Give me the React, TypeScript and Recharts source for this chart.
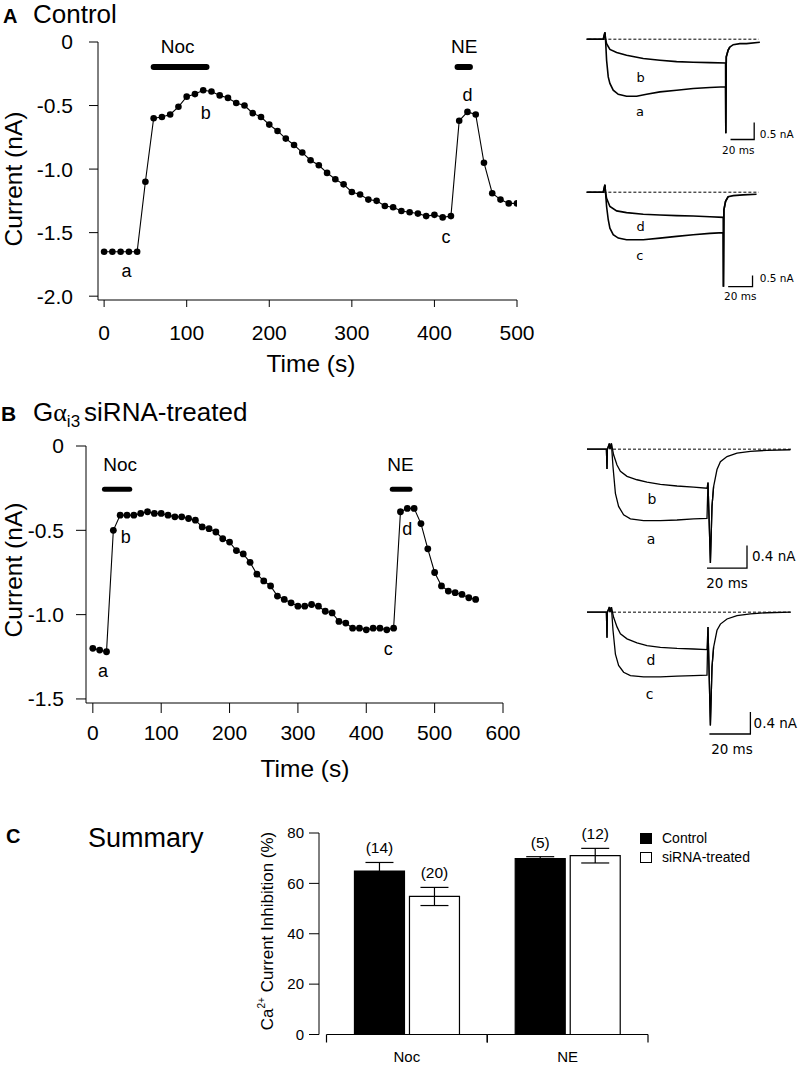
import React from 'react';
import {
  LineChart, Line, XAxis, YAxis, ReferenceDot, ReferenceLine,
  BarChart, Bar, ErrorBar, LabelList, Legend,
} from 'recharts';

const SANS = "'Liberation Sans', Arial, Helvetica, sans-serif";
const VERD = "'DejaVu Sans', Verdana, sans-serif";

// ---------------- Panel A : time course (Control) ----------------
const aTimes = [0, 10, 20, 30, 40, 50, 60, 70, 80, 90, 100, 110, 120, 130, 140, 150, 160, 170, 180, 190,
  200, 210, 220, 230, 240, 250, 260, 270, 280, 290, 300, 310, 320, 330, 340, 350, 360, 370, 380, 390,
  400, 410, 420, 430, 440, 450, 460, 470, 480, 490, 500];
const aCurrents = [-1.65, -1.65, -1.65, -1.65, -1.65, -1.10, -0.60, -0.59, -0.57, -0.51,
  -0.43, -0.41, -0.38, -0.39, -0.42, -0.44, -0.48, -0.50, -0.56, -0.59,
  -0.65, -0.70, -0.76, -0.81, -0.87, -0.93, -0.97, -1.03, -1.08, -1.12,
  -1.18, -1.20, -1.24, -1.25, -1.29, -1.30, -1.33, -1.34, -1.35, -1.37,
  -1.36, -1.38, -1.37, -0.62, -0.55, -0.57, -0.95, -1.19, -1.24, -1.27, -1.27];
const aXTicks = [0, 100, 200, 300, 400, 500];
const aYTicks = [0, -0.5, -1, -1.5, -2];
const aDrugNames = ['Noc', 'NE'];
const aDrugStart = [60, 428];
const aDrugEnd = [124, 443];
const aDrugLevel = -0.197;
const aDrugLabelT = [89, 436];
const aDrugLabelV = -0.03;
const aPointNames = ['a', 'b', 'c', 'd'];
const aPointT = [27, 123, 414, 440];
const aPointV = [-1.8, -0.556, -1.53, -0.415];

// ---------------- Panel B : time course (Gai3 siRNA) ----------------
const bTimes = [0, 10, 20, 30, 40, 50, 60, 70, 80, 90, 100, 110, 120, 130, 140, 150, 160, 170, 180, 190,
  200, 210, 220, 230, 240, 250, 260, 270, 280, 290, 300, 310, 320, 330, 340, 350, 360, 370, 380, 390,
  400, 410, 420, 430, 440, 450, 460, 470, 480, 490, 500, 510, 520, 530, 540, 550, 560];
const bCurrents = [-1.20, -1.21, -1.22, -0.50, -0.41, -0.41, -0.41, -0.40, -0.39, -0.40,
  -0.40, -0.41, -0.42, -0.42, -0.43, -0.44, -0.48, -0.49, -0.51, -0.55,
  -0.57, -0.62, -0.64, -0.69, -0.76, -0.80, -0.83, -0.89, -0.91, -0.93,
  -0.95, -0.95, -0.94, -0.95, -0.98, -0.99, -1.04, -1.05, -1.08, -1.08,
  -1.09, -1.08, -1.08, -1.09, -1.08, -0.39, -0.37, -0.37, -0.46, -0.61,
  -0.75, -0.83, -0.86, -0.87, -0.88, -0.90, -0.91];
const bXTicks = [0, 100, 200, 300, 400, 500, 600];
const bYTicks = [0, -0.5, -1, -1.5];
const bDrugNames = ['Noc', 'NE'];
const bDrugStart = [17, 438];
const bDrugEnd = [54, 464];
const bDrugLevel = -0.256;
const bDrugLabelT = [40, 450];
const bDrugLabelV = -0.107;
const bPointNames = ['a', 'b', 'c', 'd'];
const bPointT = [15, 48, 432, 460];
const bPointV = [-1.33, -0.535, -1.2, -0.49];

// ---------------- Current traces (t in ms, I in nA) ----------------
const trA_b = [[-15.5, 0], [-1.4, 0], [0, 0.2], [0.5, 0], [1.4, -0.13], [4.2, -0.3], [9.9, -0.39], [18.3, -0.47],
  [32.4, -0.57], [46.5, -0.62], [60.6, -0.66], [74.6, -0.68], [88.7, -0.69], [102, -0.7], [102.2, -2.77],
  [102.6, -0.52], [104.2, -0.32], [105.6, -0.23], [108.5, -0.16], [114.1, -0.13], [119.7, -0.13], [131, -0.09]];
const trA_a = [[-15.5, 0], [-1.4, 0], [0, 0.2], [0.5, 0], [1.4, -0.62], [2.8, -1.11], [4.2, -1.3], [7, -1.5],
  [11.3, -1.62], [18.3, -1.68], [26.8, -1.68], [35.2, -1.62], [46.5, -1.55], [60.6, -1.5], [74.6, -1.45],
  [88.7, -1.42], [102, -1.4], [102.2, -2.77], [102.6, -0.52], [104.2, -0.32], [105.6, -0.23]];
const trA_d = [[-15.5, 0], [-1.4, 0], [0, 0.22], [0.5, 0], [1.4, -0.18], [4.2, -0.42], [9.9, -0.55], [18.3, -0.6],
  [32.4, -0.65], [46.5, -0.67], [60.6, -0.69], [74.6, -0.7], [88.7, -0.72], [100, -0.74], [100.2, -2.78],
  [100.6, -0.52], [102, -0.27], [104.2, -0.13], [108.5, -0.1], [116.9, -0.08], [128.2, -0.06]];
const trA_c = [[-15.5, 0], [-1.4, 0], [0, 0.22], [0.5, 0], [1.4, -0.42], [2.8, -0.81], [4.2, -1.06], [7, -1.25],
  [11.3, -1.35], [18.3, -1.4], [32.4, -1.4], [46.5, -1.35], [60.6, -1.3], [74.6, -1.25], [88.7, -1.21],
  [100, -1.19], [100.2, -2.78], [100.6, -0.52], [102, -0.27], [104.2, -0.13]];
const trB_b = [[-10, 0], [-0.3, 0], [0, -0.35], [0.2, 0], [1.2, 0.1], [1.5, 0], [2.2, 0.1], [3.3, -0.1], [5, -0.28],
  [6.7, -0.39], [10, -0.48], [15, -0.54], [20, -0.58], [26.7, -0.62], [35, -0.65], [43.3, -0.67], [50, -0.69],
  [50.5, -0.59], [51.7, -2.01], [52.5, -1.01], [53.3, -0.66], [55, -0.36], [56.7, -0.22], [60, -0.13],
  [65, -0.07], [71.7, -0.04], [80, -0.02], [91.7, -0.01]];
const trB_a = [[-10, 0], [-0.3, 0], [0, -0.35], [0.2, 0], [1.2, 0.1], [1.5, 0], [2.2, 0.1], [3, -0.31], [4.2, -0.78],
  [5.8, -1.01], [8.3, -1.16], [11.7, -1.23], [18.3, -1.26], [26.7, -1.26], [35, -1.25], [43.3, -1.23],
  [50, -1.22], [50.5, -0.59], [51.7, -2.01], [52.5, -1.01], [53.3, -0.66]];
const trB_d = [[-10, 0], [-0.3, 0], [0, -0.45], [0.2, 0], [1.2, 0.09], [1.5, 0], [2.2, 0.09], [3.3, -0.09], [5, -0.26],
  [6.7, -0.38], [10, -0.47], [15, -0.54], [20, -0.59], [26.7, -0.62], [35, -0.64], [43.3, -0.65], [50, -0.66],
  [50.5, -0.26], [51.7, -2.0], [52.5, -0.97], [53.3, -0.62], [55, -0.32], [56.7, -0.21], [60, -0.12],
  [65, -0.06], [71.7, -0.03], [80, -0.01], [91.7, 0]];
const trB_c = [[-10, 0], [-0.3, 0], [0, -0.45], [0.2, 0], [1.2, 0.09], [1.5, 0], [2.2, 0.09], [3, -0.32], [4.2, -0.74],
  [5.8, -0.94], [8.3, -1.06], [11.7, -1.12], [18.3, -1.14], [26.7, -1.14], [35, -1.13], [43.3, -1.12],
  [50, -1.11], [50.5, -0.26], [51.7, -2.0], [52.5, -0.97], [53.3, -0.62]];
const sbA1 = [[106.2, -2.95], [126.2, -2.95], [126.2, -2.45]];
const sbA2 = [[104.2, -2.78], [124.8, -2.78], [124.8, -2.45]];
const sbB1 = [[50, -2.1], [70, -2.1], [70, -1.7]];
const sbB2 = [[51.2, -2.15], [71.7, -2.15], [71.7, -1.76]];

// ---------------- Panel C : summary ----------------
const cCategories = ['Noc', 'NE'];
const cControl = [64.9, 69.8];
const cControlErr = [3.4, 0.8];
const cControlN = [14, 5];
const cSirna = [54.8, 71.0];
const cSirnaErr = [3.6, 2.9];
const cSirnaN = [20, 12];
const cYTicks = [0, 20, 40, 60, 80];

const pts = (arr: number[][]) => arr.map(([t, v]) => ({ t, v }));

function TimeCourse(props: any) {
  const { left, top, width, height, margin, yAxisWidth, xAxisHeight, xDomain, yDomain, xTicks, yTicks,
    times, currents, drugNames, drugStart, drugEnd, drugLevel, drugLabelT, drugLabelV,
    pNames, pT, pV, xTickSize, yTickSize, xTickMargin, yTickMargin, dotR, barW } = props;
  const series = times.map((t: number, i: number) => ({ t, v: currents[i] }));
  const fmt = (v: number) => (v === 0 ? '0' : v.toFixed(1));
  return (
    <div style={{ position: 'absolute', left, top }}>
      <LineChart width={width} height={height} margin={margin}>
        <XAxis type="number" dataKey="t" domain={xDomain} ticks={xTicks} interval={0} allowDataOverflow
          height={xAxisHeight} stroke="#000" tickSize={xTickSize} tickMargin={xTickMargin}
          tick={{ fontSize: 21, fill: '#000', fontFamily: SANS }} />
        <YAxis type="number" dataKey="v" domain={yDomain} ticks={yTicks} interval={0} allowDataOverflow
          width={yAxisWidth} stroke="#000" tickSize={yTickSize} tickMargin={yTickMargin} tickFormatter={fmt}
          tick={{ fontSize: 21, fill: '#000', fontFamily: SANS }} />
        <Line data={series} dataKey="v" type="linear" stroke="#000" strokeWidth={1.1}
          dot={{ r: dotR, fill: '#000', stroke: 'none' }} isAnimationActive={false} />
        {drugNames.map((n: string, i: number) => (
          <Line key={n} data={[{ t: drugStart[i], v: drugLevel }, { t: drugEnd[i], v: drugLevel }]} dataKey="v"
            stroke="#000" strokeWidth={barW} strokeLinecap="round" dot={false} isAnimationActive={false} />
        ))}
        {drugNames.map((n: string, i: number) => (
          <ReferenceDot key={'l' + n} x={drugLabelT[i]} y={drugLabelV} r={0} fill="none" stroke="none"
            label={{ value: n, position: 'center', fontSize: 19, fill: '#000', fontFamily: SANS }} />
        ))}
        {pNames.map((n: string, i: number) => (
          <ReferenceDot key={'p' + n} x={pT[i]} y={pV[i]} r={0} fill="none" stroke="none"
            label={{ value: n, position: 'center', fontSize: 18, fill: '#000', fontFamily: SANS }} />
        ))}
      </LineChart>
    </div>
  );
}

function TracePanel(props: any) {
  const { left, top, width, height, xDomain, yDomain, traces, bar, dash, barLabel, barLabelPos,
    msLabelPos, letters, letterPos, fs, lfs, sw } = props;
  return (
    <div style={{ position: 'absolute', left, top }}>
      <LineChart width={width} height={height} margin={{ top: 0, right: 0, bottom: 0, left: 0 }}>
        <XAxis type="number" dataKey="t" domain={xDomain} hide allowDataOverflow />
        <YAxis type="number" dataKey="v" domain={yDomain} hide allowDataOverflow />
        <ReferenceLine segment={[{ x: dash[0], y: 0 }, { x: dash[1], y: 0 }]} stroke="#000"
          strokeWidth={1} strokeDasharray="3 2" />
        {traces.map((tr: number[][], i: number) => (
          <Line key={i} data={pts(tr)} dataKey="v" type="linear" stroke="#000" strokeWidth={sw}
            dot={false} isAnimationActive={false} />
        ))}
        <Line data={pts(bar)} dataKey="v" type="linear" stroke="#000" strokeWidth={1.3}
          dot={false} isAnimationActive={false} />
        <ReferenceDot x={barLabelPos[0]} y={barLabelPos[1]} r={0} fill="none" stroke="none"
          label={{ value: barLabel, position: 'right', offset: 0, fontSize: fs, fill: '#000', fontFamily: VERD }} />
        <ReferenceDot x={msLabelPos[0]} y={msLabelPos[1]} r={0} fill="none" stroke="none"
          label={{ value: '20 ms', position: 'center', fontSize: fs, fill: '#000', fontFamily: VERD }} />
        {letters.map((l: string, i: number) => (
          <ReferenceDot key={l} x={letterPos[i][0]} y={letterPos[i][1]} r={0} fill="none" stroke="none"
            label={{ value: l, position: 'center', fontSize: lfs, fill: '#000', fontFamily: VERD }} />
        ))}
      </LineChart>
    </div>
  );
}

// geometry of panel C chart
const C_W = 520, C_H = 265, C_YW = 159, C_MR = 32, C_PADL = 7.5;

function CategoryTick(props: any) {
  const { x, y, payload } = props;
  const band = (C_W - C_MR - C_YW - C_PADL) / cCategories.length;
  const h = band / 2;
  return (
    <g>
      <line x1={x - h} x2={x + h} y1={y} y2={y} stroke="#000" strokeWidth={1.2} />
      <line x1={x - h} x2={x - h} y1={y} y2={y + 8} stroke="#000" strokeWidth={1.2} />
      <line x1={x + h} x2={x + h} y1={y} y2={y + 8} stroke="#000" strokeWidth={1.2} />
      <text x={x} y={y + 27} textAnchor="middle" fontSize={15} fontFamily={SANS} fill="#000">{payload.value}</text>
    </g>
  );
}

function nLabel(values: number[], errs: number[], ns: number[]) {
  return (p: any) => {
    const { x, y, width, height, index } = p;
    const i = index ?? 0;
    const pxPer = height / values[i];
    const top = y - errs[i] * pxPer;
    return (
      <text x={x + width / 2} y={top - 9} textAnchor="middle" fontSize={15.5} fontFamily={SANS} fill="#000">
        ({ns[i]})
      </text>
    );
  };
}

function LegendBox(props: any) {
  const { payload } = props;
  return (
    <div style={{ fontFamily: SANS, fontSize: 14, lineHeight: '19px', color: '#000' }}>
      {(payload || []).map((e: any) => (
        <div key={e.value} style={{ display: 'flex', alignItems: 'center', whiteSpace: 'nowrap' }}>
          <span style={{ display: 'inline-block', width: 12, height: 11, background: e.payload?.fill ?? e.color,
            border: '1px solid #000', boxSizing: 'border-box', marginRight: 10 }} />
          {e.value}
        </div>
      ))}
    </div>
  );
}

export default function App() {
  const cRows = cCategories.map((cat, i) => ({
    cat, ctl: cControl[i], ctlErr: cControlErr[i], ctlN: cControlN[i],
    sir: cSirna[i], sirErr: cSirnaErr[i], sirN: cSirnaN[i],
  }));
  return (
    <div style={{ position: 'absolute', left: 0, top: 0, width: 800, height: 1065, background: '#fff', overflow: 'hidden' }}>
      <TimeCourse left={0} top={0} width={540} height={360}
        margin={{ top: 42, right: 23, left: 0, bottom: 0 }} yAxisWidth={98} xAxisHeight={60}
        xDomain={[-7.4, 500]} yDomain={[-2.03, 0]} xTicks={aXTicks} yTicks={aYTicks}
        times={aTimes} currents={aCurrents} drugNames={aDrugNames} drugStart={aDrugStart} drugEnd={aDrugEnd}
        drugLevel={aDrugLevel} drugLabelT={aDrugLabelT} drugLabelV={aDrugLabelV}
        pNames={aPointNames} pT={aPointT} pV={aPointV}
        xTickSize={7} yTickSize={9} xTickMargin={18} yTickMargin={16} dotR={3.3} barW={6} />
      <TimeCourse left={0} top={390} width={530} height={390}
        margin={{ top: 56, right: 27, left: 0, bottom: 0 }} yAxisWidth={86} xAxisHeight={77}
        xDomain={[-10, 600]} yDomain={[-1.524, 0]} xTicks={bXTicks} yTicks={bYTicks}
        times={bTimes} currents={bCurrents} drugNames={bDrugNames} drugStart={bDrugStart} drugEnd={bDrugEnd}
        drugLevel={bDrugLevel} drugLabelT={bDrugLabelT} drugLabelV={bDrugLabelV}
        pNames={bPointNames} pT={bPointT} pV={bPointV}
        xTickSize={10} yTickSize={10} xTickMargin={12} yTickMargin={12} dotR={3.4} barW={5} />

      <TracePanel left={586} top={28.8} width={220} height={129.2} xDomain={[-16, 170]} yDomain={[-3.5, 0.3]}
        traces={[trA_b, trA_a]} bar={sbA1} dash={[-14, 130]} barLabel="0.5 nA" barLabelPos={[131, -2.8]}
        msLabelPos={[112.7, -3.26]} letters={['b', 'a']} letterPos={[[30.1, -1.11], [29.6, -2.11]]}
        fs={10.5} lfs={13} sw={1.6} />
      <TracePanel left={586} top={182.1} width={220} height={129.2} xDomain={[-16, 170]} yDomain={[-3.5, 0.3]}
        traces={[trA_d, trA_c]} bar={sbA2} dash={[-14, 130]} barLabel="0.5 nA" barLabelPos={[131, -2.53]}
        msLabelPos={[114.4, -3.07]} letters={['d', 'c']} letterPos={[[30.1, -1.01], [29.6, -1.86]]}
        fs={10.5} lfs={13} sw={1.6} />
      <TracePanel left={586.7} top={435.2} width={214} height={155.8} xDomain={[-10, 97]} yDomain={[-2.5, 0.25]}
        traces={[trB_b, trB_a]} bar={sbB1} dash={[3, 92]} barLabel="0.4 nA" barLabelPos={[72.5, -1.89]}
        msLabelPos={[60, -2.36]} letters={['b', 'a']} letterPos={[[22.5, -0.88], [22, -1.59]]}
        fs={13.5} lfs={14} sw={1.3} />
      <TracePanel left={586.7} top={597.5} width={214} height={158.7} xDomain={[-10, 97]} yDomain={[-2.55, 0.25]}
        traces={[trB_d, trB_c]} bar={sbB2} dash={[3, 92]} barLabel="0.4 nA" barLabelPos={[73.3, -1.96]}
        msLabelPos={[62.5, -2.41]} letters={['d', 'c']} letterPos={[[22, -0.85], [21.3, -1.44]]}
        fs={13.5} lfs={14} sw={1.3} />

      <div style={{ position: 'absolute', left: 160, top: 800 }}>
        <BarChart width={C_W} height={C_H} data={cRows} margin={{ top: 33, right: C_MR, left: 0, bottom: 0 }}
          barCategoryGap="17.4%" barGap={5}>
          <XAxis dataKey="cat" type="category" height={30.5} axisLine={false} tickLine={false}
            tickSize={0} tickMargin={0} padding={{ left: C_PADL, right: 0 }} tick={<CategoryTick />} interval={0} />
          <YAxis type="number" domain={[0, 80]} ticks={cYTicks} interval={0} width={C_YW} stroke="#000"
            tickSize={10} tickMargin={5} tick={{ fontSize: 15, fill: '#000', fontFamily: SANS }} />
          <Legend layout="vertical" align="center" verticalAlign="middle" content={<LegendBox />}
            wrapperStyle={{ position: 'absolute', left: 480, top: 28.5, width: 130, height: 40 }} />
          <Bar dataKey="ctl" name="Control" fill="#000" stroke="#000" strokeWidth={1.2} isAnimationActive={false}>
            <ErrorBar dataKey="ctlErr" width={14} stroke="#000" strokeWidth={1.2} direction="y" />
            <LabelList dataKey="ctlN" content={nLabel(cControl, cControlErr, cControlN)} />
          </Bar>
          <Bar dataKey="sir" name="siRNA-treated" fill="#fff" stroke="#000" strokeWidth={1.2} isAnimationActive={false}>
            <ErrorBar dataKey="sirErr" width={14} stroke="#000" strokeWidth={1.2} direction="y" />
            <LabelList dataKey="sirN" content={nLabel(cSirna, cSirnaErr, cSirnaN)} />
          </Bar>
        </BarChart>
      </div>

      <svg width={800} height={1065} style={{ position: 'absolute', left: 0, top: 0, pointerEvents: 'none' }}
        fontFamily={SANS} fill="#000">
        <text x={3} y={23} fontSize={20} fontWeight="bold">A</text>
        <text x={33} y={23} fontSize={26}>Control</text>
        <text transform="translate(13,179) rotate(-90)" textAnchor="middle" dominantBaseline="central" fontSize={24.5}>Current (nA)</text>
        <text x={311} y={372} textAnchor="middle" fontSize={24.5}>Time (s)</text>

        <text x={1} y={421} fontSize={21} fontWeight="bold">B</text>
        <text x={33} y={421} fontSize={26}>G<tspan fontFamily="'Liberation Serif', serif">α</tspan><tspan fontSize={17} dy={6}>i3</tspan><tspan dy={-6} dx={4}>siRNA-treated</tspan></text>
        <text transform="translate(13,570) rotate(-90)" textAnchor="middle" dominantBaseline="central" fontSize={24.5}>Current (nA)</text>
        <text x={305} y={777} textAnchor="middle" fontSize={24.5}>Time (s)</text>

        <text x={6} y={843} fontSize={20} fontWeight="bold">C</text>
        <text x={88} y={847} fontSize={27}>Summary</text>
        <text transform="translate(267,931) rotate(-90)" textAnchor="middle" dominantBaseline="central" fontSize={17}>Ca<tspan fontSize={10} dy={-6}>2+</tspan><tspan dy={6}> Current Inhibition (%)</tspan></text>
      </svg>
    </div>
  );
}
